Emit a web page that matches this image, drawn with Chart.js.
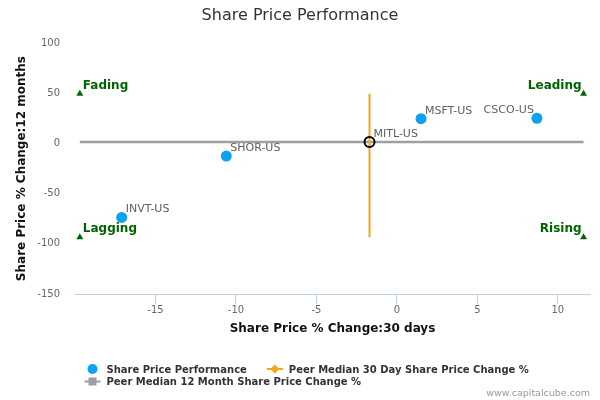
<!DOCTYPE html>
<html>
<head>
<meta charset="utf-8">
<title>Share Price Performance</title>
<script src="https://cdn.jsdelivr.net/npm/chart.js@4.4.1/dist/chart.umd.min.js"></script>
<style>
  html, body { margin: 0; padding: 0; background: #fff; }
  #wrap { width: 600px; height: 400px; position: relative; }
</style>
</head>
<body>
<div id="wrap"><canvas id="myChart"></canvas></div>
<script>
// peers: 30 day change (x) and 12 month change (y), in %
const companies = ['INVT-US', 'SHOR-US', 'MSFT-US', 'CSCO-US'];
const change30d = [-17.1, -10.6, 1.5, 8.7];
const change12m = [-73.7, -12.5, 24.8, 25.2];

// the company itself
const focusName = 'MITL-US';
const focus30d = -1.7;
const focus12m = 1.4;

// peer medians
const peerMedian30d = -1.7;
const peerMedian12m = 1.4;

// quadrant markers
const quadrantNames = ['Fading', 'Leading', 'Lagging', 'Rising'];
const quadrant30d = [-19.7, 11.6, -19.7, 11.6];
const quadrant12m = [49.5, 49.5, -93.5, -93.5];

const xTicks = [-15, -10, -5, 0, 5, 10];
const yTicks = [-150, -100, -50, 0, 50, 100];

const FONT = '"DejaVu Sans", "Liberation Sans", sans-serif';

const qMinX = Math.min(...quadrant30d), qMaxX = Math.max(...quadrant30d);
const qMinY = Math.min(...quadrant12m), qMaxY = Math.max(...quadrant12m);

// draws the name of each point next to it, flipped left when it would run out of the plot
const pointLabels = {
  id: 'pointLabels',
  afterDatasetsDraw(chart) {
    const ctx = chart.ctx;
    const area = chart.chartArea;
    ctx.save();
    ctx.textBaseline = 'alphabetic';
    chart.data.datasets.forEach((ds, di) => {
      if (!ds.pointLabel) return;
      ctx.font = ds.pointLabel.font;
      ctx.fillStyle = ds.pointLabel.color;
      chart.getDatasetMeta(di).data.forEach((el, i) => {
        const name = ds.data[i].name;
        const w = ctx.measureText(name).width;
        let x = el.x + ds.pointLabel.dx;
        ctx.textAlign = 'left';
        if (x + w > area.right) {
          x = el.x - ds.pointLabel.dxLeft;
          ctx.textAlign = 'right';
        }
        ctx.fillText(name, x, el.y - 5);
      });
    });
    ctx.restore();
  }
};

// legend laid out like the original: left aligned, wrapping rows
const customLegend = {
  id: 'customLegend',
  afterDraw(chart) {
    const ctx = chart.ctx;
    const startX = 84.5;
    const maxX = 560;
    let x = startX;
    let y = 372.5;
    ctx.save();
    ctx.font = 'bold 10px ' + FONT;
    ctx.textBaseline = 'alphabetic';
    ctx.textAlign = 'left';
    chart.data.datasets.forEach(ds => {
      if (!ds.legendSymbol) return;
      const w = 16 + 6 + ctx.measureText(ds.label).width;
      if (x > startX && x + w > maxX) {
        x = startX;
        y += 12.5;
      }
      const cy = y - 3.5;
      const cx = x + 8;
      ctx.fillStyle = ds.legendColor;
      ctx.strokeStyle = ds.legendColor;
      if (ds.legendSymbol === 'circle') {
        ctx.beginPath();
        ctx.arc(cx, cy, 5, 0, Math.PI * 2);
        ctx.fill();
      } else {
        ctx.lineWidth = 2;
        ctx.beginPath();
        ctx.moveTo(x, cy);
        ctx.lineTo(x + 16, cy);
        ctx.stroke();
        ctx.beginPath();
        if (ds.legendSymbol === 'diamond') {
          ctx.moveTo(cx, cy - 4.5);
          ctx.lineTo(cx + 4.5, cy);
          ctx.lineTo(cx, cy + 4.5);
          ctx.lineTo(cx - 4.5, cy);
          ctx.closePath();
        } else {
          ctx.rect(cx - 4, cy - 4, 8, 8);
        }
        ctx.fill();
      }
      ctx.fillStyle = '#333';
      ctx.fillText(ds.label, x + 22, y);
      x += w + 20;
    });

    // credit line
    ctx.font = '9.5px ' + FONT;
    ctx.fillStyle = '#999';
    ctx.textAlign = 'right';
    ctx.fillText('www.capitalcube.com', 590, 396);
    ctx.restore();
  }
};

const ctx = document.getElementById('myChart');
new Chart(ctx, {
  type: 'scatter',
  data: {
    datasets: [{
      label: 'Share Price Performance',
      data: companies.map((c, i) => ({ x: change30d[i], y: change12m[i], name: c })),
      backgroundColor: '#0ca2ee',
      borderWidth: 0,
      pointRadius: 5.5,
      pointHoverRadius: 5.5,
      legendSymbol: 'circle',
      legendColor: '#0ca2ee',
      pointLabel: { font: '11px ' + FONT, color: '#606060', dx: 4, dxLeft: 3 }
    }, {
      label: focusName,
      data: [{ x: focus30d, y: focus12m, name: focusName }],
      backgroundColor: 'rgba(0,0,0,0)',
      borderColor: '#000',
      borderWidth: 2,
      pointRadius: 5,
      pointHoverRadius: 5,
      pointLabel: { font: '11px ' + FONT, color: '#606060', dx: 4, dxLeft: 3 }
    }, {
      label: 'Quadrants',
      data: quadrantNames.map((q, i) => ({ x: quadrant30d[i], y: quadrant12m[i], name: q })),
      pointStyle: 'triangle',
      backgroundColor: '#006400',
      borderColor: '#006400',
      borderWidth: 0,
      pointRadius: 4,
      pointHoverRadius: 4,
      pointLabel: { font: 'bold 12px ' + FONT, color: '#006400', dx: 3, dxLeft: 2 }
    }, {
      label: 'Peer Median 30 Day Share Price Change %',
      data: [{ x: peerMedian30d, y: qMaxY }, { x: peerMedian30d, y: qMinY }],
      showLine: true,
      borderColor: '#f8a31b',
      borderWidth: 2,
      pointRadius: 0,
      pointHoverRadius: 0,
      legendSymbol: 'diamond',
      legendColor: '#f8a31b'
    }, {
      label: 'Peer Median 12 Month Share Price Change %',
      data: [{ x: qMinX, y: peerMedian12m }, { x: qMaxX, y: peerMedian12m }],
      showLine: true,
      borderColor: '#9c9fa9',
      borderWidth: 2.5,
      pointRadius: 0,
      pointHoverRadius: 0,
      legendSymbol: 'square',
      legendColor: '#9c9fa9'
    }]
  },
  options: {
    responsive: true,
    maintainAspectRatio: false,
    animation: false,
    events: [],
    layout: {
      padding: { left: 10, right: 10, top: 0, bottom: 60 }
    },
    plugins: {
      legend: { display: false },
      tooltip: { enabled: false },
      title: {
        display: true,
        text: 'Share Price Performance',
        color: '#333',
        font: { family: FONT, size: 16, weight: 'normal' },
        padding: { top: 6, bottom: 18 }
      }
    },
    scales: {
      x: {
        type: 'linear',
        min: -20,
        max: 12,
        afterBuildTicks: scale => { scale.ticks = xTicks.map(v => ({ value: v })); },
        afterFit: scale => { scale.height = 46; },
        grid: {
          display: true,
          drawOnChartArea: false,
          drawTicks: true,
          tickLength: 10,
          color: '#c0d0e0'
        },
        border: { display: true, color: '#c0d0e0', width: 1 },
        ticks: {
          autoSkip: false,
          maxRotation: 0,
          padding: 0,
          color: '#666',
          font: { family: FONT, size: 10 }
        },
        title: {
          display: true,
          text: 'Share Price % Change:30 days',
          color: '#111',
          font: { family: FONT, size: 12, weight: 'bold' },
          padding: { top: 0, bottom: 4 }
        }
      },
      y: {
        type: 'linear',
        min: -150,
        max: 100,
        afterBuildTicks: scale => { scale.ticks = yTicks.map(v => ({ value: v })); },
        afterFit: scale => { scale.width = 65; },
        grid: { display: false, drawTicks: false },
        border: { display: false },
        ticks: {
          autoSkip: false,
          padding: 15,
          color: '#666',
          font: { family: FONT, size: 10 }
        },
        title: {
          display: true,
          text: 'Share Price % Change:12 months',
          color: '#111',
          font: { family: FONT, size: 12, weight: 'bold' },
          padding: { top: 5, bottom: 0 }
        }
      }
    }
  },
  plugins: [pointLabels, customLegend]
});
</script>
</body>
</html>
